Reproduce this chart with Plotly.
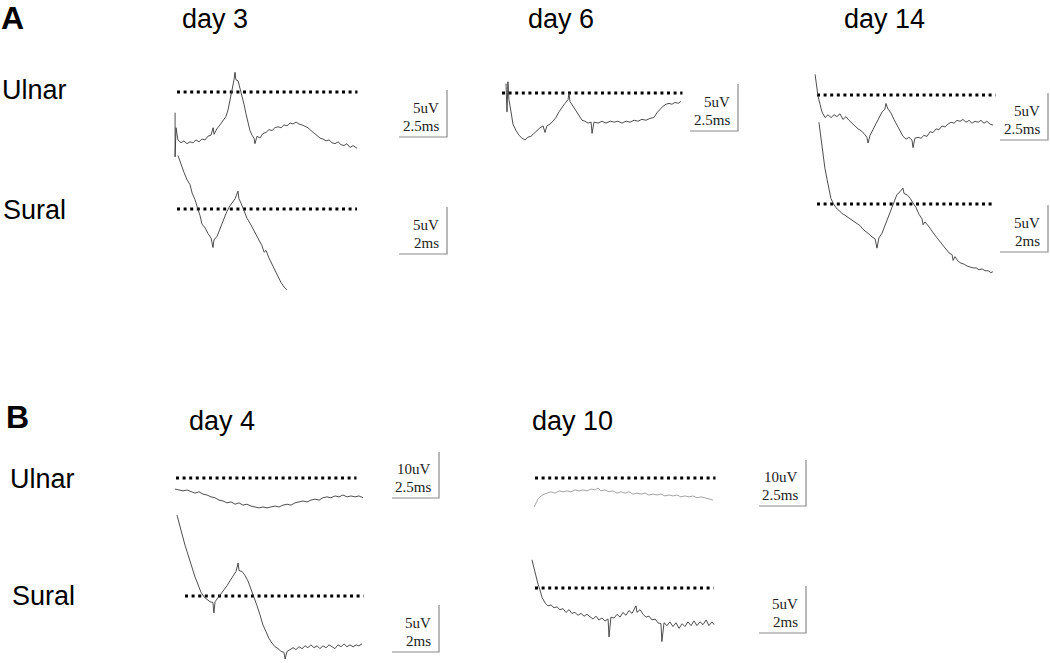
import plotly.graph_objects as go

W, H = 1050, 663

# ---------------- data: time (ms) and amplitude (uV, relative to dotted reference) -------------
a3u_t = [-0.10, -0.10, -0.05, 0.05, 0.21, 0.36, 0.52, 0.68, 0.83, 0.99, 1.15, 1.30, 1.46, 1.61, 1.77, 1.88, 1.93, 2.08, 2.24, 2.40, 2.55, 2.66, 2.76, 2.86, 2.97, 3.02, 3.07, 3.18, 3.28, 3.39, 3.49, 3.59, 3.70, 3.80, 3.91, 4.01, 4.06, 4.17, 4.32, 4.48, 4.64, 4.79, 4.95, 5.10, 5.26, 5.42, 5.57, 5.73, 5.89, 6.04, 6.20, 6.35, 6.51, 6.67, 6.82, 6.98, 7.14, 7.29, 7.45, 7.60, 7.76, 7.92, 8.07, 8.23, 8.39, 8.54, 8.70, 8.85, 9.01, 9.17, 9.38]
a3u_v = [-2.2, -6.9, -3.8, -5.1, -5.4, -5.2, -5.5, -5.3, -5.4, -5.1, -5.3, -5.0, -5.1, -4.7, -4.6, -3.8, -4.5, -3.9, -3.5, -3.1, -2.6, -1.9, -0.9, 0.3, 1.3, 2.1, 1.3, 1.2, 0.4, -0.3, -1.3, -2.3, -3.3, -4.1, -4.6, -4.9, -5.5, -4.7, -4.9, -4.4, -4.3, -4.0, -4.1, -3.8, -3.7, -3.8, -3.5, -3.6, -3.3, -3.4, -3.2, -3.4, -3.5, -3.7, -3.8, -4.1, -4.4, -4.6, -4.9, -5.0, -5.2, -5.1, -5.4, -5.5, -5.3, -5.6, -5.7, -5.5, -5.9, -5.7, -6.0]

a3s_t = [0.04, 0.17, 0.29, 0.42, 0.54, 0.63, 0.75, 0.88, 0.96, 1.04, 1.17, 1.29, 1.42, 1.50, 1.54, 1.67, 1.79, 1.92, 2.04, 2.17, 2.29, 2.42, 2.54, 2.58, 2.67, 2.79, 2.92, 3.04, 3.17, 3.29, 3.42, 3.54, 3.63, 3.71, 3.83, 3.96, 4.08, 4.21, 4.33, 4.46, 4.58]
a3s_v = [5.7, 4.7, 3.9, 3.1, 2.6, 1.7, 1.0, -0.1, -0.7, -1.6, -2.0, -2.6, -3.1, -4.1, -3.3, -2.9, -2.1, -1.4, -0.5, 0.2, 0.7, 1.1, 1.9, 1.1, 0.6, -0.1, -1.0, -1.5, -2.1, -2.8, -3.3, -3.9, -4.6, -4.4, -5.2, -5.9, -6.5, -7.1, -7.8, -8.3, -8.6]

a6u_t = [0.21, 0.26, 0.31, 0.36, 0.47, 0.57, 0.73, 0.89, 1.04, 1.20, 1.35, 1.51, 1.67, 1.82, 1.98, 2.14, 2.24, 2.34, 2.50, 2.66, 2.81, 2.97, 3.13, 3.28, 3.44, 3.49, 3.54, 3.70, 3.85, 4.01, 4.17, 4.32, 4.48, 4.64, 4.69, 4.79, 5.00, 5.21, 5.42, 5.63, 5.83, 6.04, 6.25, 6.46, 6.67, 6.88, 7.08, 7.29, 7.50, 7.71, 7.92, 8.07, 8.23, 8.39, 8.54, 8.70, 8.85, 9.01, 9.17, 9.32]
a6u_v = [1.0, -2.0, 1.2, -0.7, -2.0, -3.3, -4.0, -4.5, -4.8, -5.0, -4.7, -4.6, -4.3, -4.0, -3.7, -3.5, -4.2, -3.5, -3.3, -3.0, -2.6, -2.0, -1.5, -1.1, -0.7, 0.0, -0.9, -1.4, -1.9, -2.4, -2.9, -3.0, -3.2, -3.1, -4.3, -3.1, -3.2, -3.0, -3.2, -3.0, -3.1, -3.0, -3.2, -3.0, -3.1, -2.9, -3.0, -2.8, -2.9, -2.7, -2.6, -2.1, -1.7, -1.4, -1.2, -1.1, -1.2, -1.0, -1.1, -0.9]

a14u_t = [-0.10, -0.05, 0.05, 0.16, 0.26, 0.42, 0.57, 0.73, 0.89, 1.04, 1.20, 1.35, 1.51, 1.67, 1.82, 1.98, 2.14, 2.29, 2.45, 2.60, 2.66, 2.76, 2.92, 3.07, 3.23, 3.39, 3.54, 3.59, 3.70, 3.85, 4.01, 4.17, 4.32, 4.48, 4.64, 4.79, 4.95, 5.00, 5.10, 5.26, 5.42, 5.57, 5.73, 5.89, 6.04, 6.20, 6.35, 6.51, 6.67, 6.82, 6.98, 7.14, 7.29, 7.45, 7.60, 7.76, 7.92, 8.07, 8.23, 8.39, 8.54, 8.70, 8.85, 9.01, 9.17]
a14u_v = [2.2, 1.2, -0.1, -1.0, -1.8, -2.4, -2.1, -2.4, -2.1, -2.3, -2.0, -2.6, -2.3, -2.7, -3.0, -3.3, -3.6, -3.8, -4.1, -4.5, -5.1, -4.3, -3.7, -3.1, -2.4, -1.8, -1.5, -0.9, -1.5, -1.9, -2.6, -3.2, -3.8, -4.4, -4.7, -4.5, -4.8, -5.6, -4.6, -4.5, -4.6, -4.3, -4.4, -3.9, -4.0, -3.6, -3.7, -3.3, -3.4, -3.1, -2.9, -3.0, -2.7, -2.8, -2.6, -2.9, -2.7, -3.0, -2.8, -2.9, -2.7, -3.0, -2.8, -3.1, -3.2]

a14s_t = [0.08, 0.17, 0.25, 0.33, 0.42, 0.50, 0.58, 0.67, 0.79, 0.92, 1.04, 1.17, 1.29, 1.42, 1.54, 1.67, 1.79, 1.92, 2.04, 2.17, 2.29, 2.42, 2.50, 2.58, 2.71, 2.83, 2.96, 3.08, 3.21, 3.33, 3.46, 3.58, 3.63, 3.75, 3.88, 4.00, 4.13, 4.25, 4.38, 4.42, 4.50, 4.63, 4.75, 4.88, 5.00, 5.13, 5.25, 5.38, 5.50, 5.63, 5.67, 5.75, 5.88, 6.00, 6.13, 6.25, 6.38, 6.50, 6.63, 6.75, 6.88, 7.00, 7.13, 7.25, 7.33]
a14s_v = [8.7, 6.8, 5.2, 3.8, 2.6, 1.5, 0.6, 0.1, -0.4, -0.7, -1.0, -1.2, -1.4, -1.7, -1.9, -2.1, -2.3, -2.7, -2.9, -3.2, -3.5, -3.7, -4.7, -3.6, -3.1, -2.3, -1.4, -0.5, 0.3, 1.0, 1.3, 1.7, 1.1, 1.0, 0.6, 0.1, -0.4, -1.1, -1.6, -2.2, -1.9, -2.3, -2.8, -3.2, -3.6, -4.0, -4.4, -4.8, -5.2, -5.4, -6.0, -5.6, -6.1, -6.3, -6.4, -6.6, -6.7, -6.8, -6.8, -7.0, -6.9, -7.1, -7.1, -7.3, -7.2]

b4u_t = [-0.05, 0.16, 0.37, 0.59, 0.80, 1.01, 1.22, 1.44, 1.65, 1.86, 2.07, 2.29, 2.50, 2.71, 2.93, 3.14, 3.35, 3.56, 3.78, 3.99, 4.20, 4.41, 4.63, 4.84, 5.05, 5.27, 5.48, 5.69, 5.90, 6.12, 6.33, 6.54, 6.76, 6.97, 7.18, 7.39, 7.61, 7.82, 8.03, 8.24, 8.46, 8.67, 8.88, 9.10, 9.31, 9.52, 9.73, 9.95]
b4u_v = [-2.4, -2.6, -2.8, -2.6, -3.0, -3.3, -3.0, -3.5, -3.7, -4.1, -4.3, -4.8, -5.0, -5.4, -5.2, -5.7, -5.4, -5.9, -5.7, -6.1, -6.3, -6.5, -6.3, -6.5, -6.3, -6.1, -6.3, -5.9, -5.7, -5.9, -5.4, -5.2, -5.0, -5.2, -4.8, -4.6, -4.8, -4.3, -4.1, -4.3, -3.9, -4.1, -3.7, -4.1, -3.9, -4.1, -3.9, -4.3]

b4s_t = [-0.34, -0.26, -0.17, -0.09, 0.00, 0.09, 0.17, 0.26, 0.34, 0.43, 0.51, 0.60, 0.68, 0.81, 0.94, 1.06, 1.19, 1.23, 1.28, 1.40, 1.53, 1.66, 1.79, 1.91, 2.04, 2.17, 2.26, 2.30, 2.43, 2.55, 2.68, 2.81, 2.94, 3.06, 3.19, 3.32, 3.45, 3.57, 3.70, 3.83, 3.96, 4.09, 4.21, 4.26, 4.34, 4.47, 4.60, 4.72, 4.85, 4.98, 5.11, 5.23, 5.36, 5.49, 5.62, 5.74, 5.87, 6.00, 6.13, 6.26, 6.38, 6.51, 6.64, 6.77, 6.89, 7.02, 7.15, 7.28, 7.40, 7.53]
b4s_v = [8.6, 7.8, 6.9, 6.2, 5.4, 4.7, 4.0, 3.3, 2.7, 2.0, 1.5, 1.0, 0.4, -0.1, -0.4, -0.6, -0.7, -1.8, -0.6, -0.2, 0.2, 0.7, 1.1, 1.6, 2.1, 2.6, 3.5, 2.7, 2.6, 2.2, 1.6, 0.7, 0.0, -1.0, -2.0, -3.1, -3.8, -4.5, -5.0, -5.4, -5.6, -5.9, -6.0, -6.7, -5.9, -5.7, -5.5, -5.7, -5.4, -5.6, -5.3, -5.5, -5.2, -5.5, -5.3, -5.6, -5.3, -5.5, -5.2, -5.4, -5.6, -5.2, -5.4, -5.1, -5.4, -5.2, -5.4, -5.2, -5.3, -5.1]

b10u_t = [-0.05, 0.05, 0.16, 0.32, 0.48, 0.64, 0.85, 1.06, 1.28, 1.49, 1.70, 1.91, 2.13, 2.34, 2.55, 2.77, 2.98, 3.19, 3.35, 3.51, 3.72, 3.94, 4.15, 4.36, 4.57, 4.79, 5.00, 5.21, 5.43, 5.64, 5.85, 6.06, 6.28, 6.49, 6.70, 6.91, 7.13, 7.34, 7.55, 7.77, 7.98, 8.19, 8.40, 8.62, 8.83, 9.04, 9.26, 9.47]
b10u_v = [-6.3, -5.4, -4.6, -3.9, -3.5, -3.3, -3.0, -3.3, -2.8, -3.0, -2.8, -3.0, -2.6, -2.8, -2.6, -2.8, -2.4, -2.6, -2.2, -2.8, -2.6, -3.0, -2.8, -3.3, -3.0, -3.3, -3.0, -3.5, -3.3, -3.5, -3.3, -3.7, -3.5, -3.7, -3.5, -3.9, -3.7, -3.9, -3.7, -4.1, -3.9, -4.1, -3.9, -4.3, -4.1, -4.3, -4.6, -4.8]

b10s_t = [-0.13, -0.04, 0.04, 0.13, 0.21, 0.30, 0.43, 0.55, 0.68, 0.81, 0.94, 1.06, 1.19, 1.32, 1.45, 1.57, 1.70, 1.83, 1.96, 2.09, 2.21, 2.34, 2.47, 2.60, 2.72, 2.85, 2.98, 3.11, 3.15, 3.23, 3.36, 3.49, 3.62, 3.74, 3.87, 4.00, 4.13, 4.30, 4.34, 4.47, 4.60, 4.72, 4.85, 4.98, 5.11, 5.23, 5.36, 5.40, 5.49, 5.62, 5.74, 5.87, 6.00, 6.13, 6.26, 6.38, 6.51, 6.64, 6.77, 6.89, 7.02, 7.15, 7.28, 7.40, 7.53, 7.62]
b10s_v = [3.0, 2.1, 1.1, 0.4, -0.2, -1.0, -1.6, -1.9, -1.8, -2.1, -2.0, -2.3, -2.2, -2.6, -2.3, -2.7, -2.6, -2.9, -2.7, -3.0, -2.8, -3.1, -3.3, -3.0, -3.4, -3.2, -3.5, -3.3, -5.2, -3.1, -3.2, -2.8, -3.1, -2.6, -2.9, -2.4, -2.7, -1.9, -2.6, -2.3, -2.8, -3.1, -3.0, -3.4, -3.3, -3.7, -3.8, -5.7, -3.7, -4.0, -3.6, -4.1, -3.7, -4.3, -3.8, -4.1, -3.6, -4.0, -3.5, -4.0, -3.6, -3.9, -3.4, -4.0, -3.6, -3.9]

# scale bar values (ms, uV)
bar_ms = [2.5, 2, 2.5, 2.5, 2, 2.5, 2, 2.5, 2]
bar_uv = [5, 5, 5, 5, 5, 10, 5, 10, 5]

# ---------------- layout of panels (pixel anchors + calibration) ----------------
panels = [
    dict(t=a3u_t, v=a3u_v, ox=177, oy=92, pms=19.2, puv=9.4, ref=9.4, bx=447, by=137),
    dict(t=a3s_t, v=a3s_v, ox=177, oy=209, pms=24.0, puv=9.4, ref=7.5, bx=447, by=254),
    dict(t=a6u_t, v=a6u_v, ox=502, oy=93, pms=19.2, puv=9.4, ref=9.4, bx=738, by=131),
    dict(t=a14u_t, v=a14u_v, ox=817, oy=95, pms=19.2, puv=9.4, ref=9.3, bx=1048, by=140),
    dict(t=a14s_t, v=a14s_v, ox=817, oy=204, pms=24.0, puv=9.4, ref=7.4, bx=1048, by=252),
    dict(t=b4u_t, v=b4u_v, ox=176, oy=478, pms=18.8, puv=4.6, ref=9.6, bx=439, by=498),
    dict(t=b4s_t, v=b4s_v, ox=185, oy=596, pms=23.5, puv=9.4, ref=7.6, bx=439, by=652),
    dict(t=b10u_t, v=b10u_v, ox=535, oy=478, pms=18.8, puv=4.6, ref=9.6, bx=806, by=506, color="#9a9a9a"),
    dict(t=b10s_t, v=b10s_v, ox=535, oy=588, pms=23.5, puv=9.4, ref=7.6, bx=806, by=633),
]

fig = go.Figure()
layout = dict(
    width=W, height=H, autosize=False,
    margin=dict(l=0, r=0, t=0, b=0),
    paper_bgcolor="white", plot_bgcolor="rgba(0,0,0,0)",
    showlegend=False, hovermode=False,
)

annotations = []


def px2paper(x, y):
    return x / W, 1 - y / H


for i, p in enumerate(panels):
    n = i + 1
    xs = "" if n == 1 else str(n)
    xa, ya = "x" + xs, "y" + xs
    layout["xaxis" + xs] = dict(domain=[0, 1], range=[-p["ox"] / p["pms"], (W - p["ox"]) / p["pms"]],
                                visible=False, anchor=ya, fixedrange=True)
    layout["yaxis" + xs] = dict(domain=[0, 1], range=[-(H - p["oy"]) / p["puv"], p["oy"] / p["puv"]],
                                visible=False, anchor=xa, fixedrange=True)
    # dotted reference line
    fig.add_trace(go.Scatter(x=[0, p["ref"]], y=[0, 0], mode="lines", xaxis=xa, yaxis=ya,
                             line=dict(color="black", width=3, dash="3px,3.6px")))
    # waveform
    fig.add_trace(go.Scatter(x=p["t"], y=p["v"], mode="lines", xaxis=xa, yaxis=ya,
                             line=dict(color=p.get("color", "#3a3a3a"), width=0.9)))
    # scale bar (L shape)
    tc = (p["bx"] - p["ox"]) / p["pms"]
    vc = (p["oy"] - p["by"]) / p["puv"]
    fig.add_trace(go.Scatter(x=[tc - bar_ms[i], tc, tc], y=[vc, vc, vc + bar_uv[i]], mode="lines",
                             xaxis=xa, yaxis=ya, line=dict(color="#8a8a8a", width=1.2)))
    for txt, dy in ((f"{bar_uv[i]:g}uV", 29), (f"{bar_ms[i]:g}ms", 11)):
        ax, ay = px2paper(p["bx"] - 6, p["by"] - dy)
        annotations.append(dict(x=ax, y=ay, xref="paper", yref="paper", text=txt, showarrow=False,
                                xanchor="right", yanchor="middle",
                                font=dict(family="Liberation Serif", size=15, color="#222")))

labels = [
    ("A", -1, 18, 32, True), ("day 3", 180, 19, 27, False), ("day 6", 526, 19, 27, False),
    ("day 14", 842, 19, 27, False), ("Ulnar", 0, 90, 27, False), ("Sural", 1, 210, 27, False),
    ("B", 4, 417, 32, True), ("day 4", 187, 421, 27, False), ("day 10", 530, 421, 27, False),
    ("Ulnar", 8, 479, 27, False), ("Sural", 10, 596, 27, False),
]
for txt, x, y, size, bold in labels:
    ax, ay = px2paper(x, y)
    annotations.append(dict(x=ax, y=ay, xref="paper", yref="paper", showarrow=False,
                            text=f"<b>{txt}</b>" if bold else txt, xanchor="left", yanchor="middle",
                            font=dict(family="Liberation Sans", size=size, color="black")))

layout["annotations"] = annotations
fig.update_layout(**layout)
fig.write_html("out.html", config={"displayModeBar": False, "staticPlot": True},
               post_script="document.body.style.margin='0';document.body.style.overflow='hidden';")
